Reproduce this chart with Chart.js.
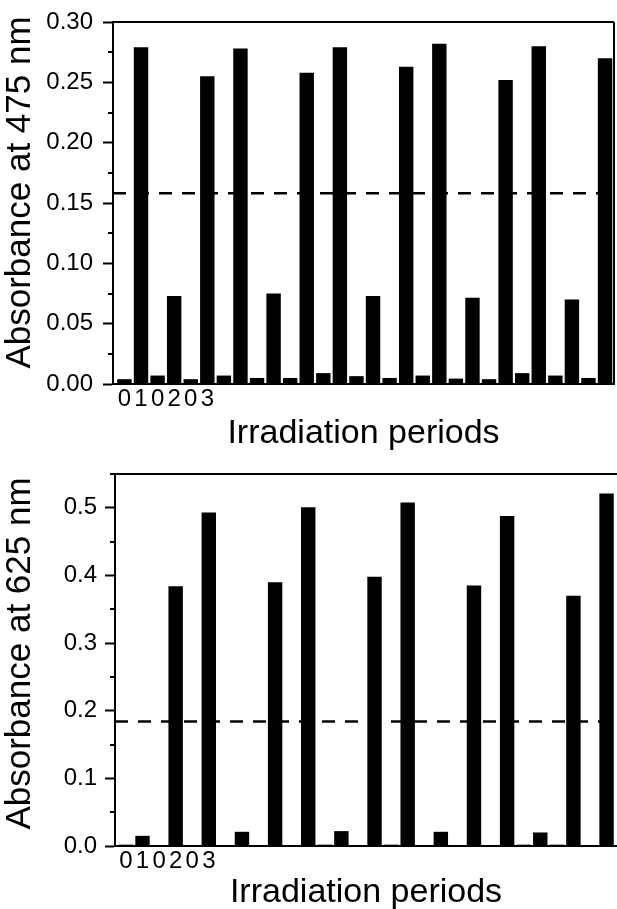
<!DOCTYPE html>
<html>
<head>
<meta charset="utf-8">
<script src="https://cdn.jsdelivr.net/npm/chart.js@4.4.0/dist/chart.umd.min.js"></script>
<style>
  html, body { margin: 0; padding: 0; background: #fff; }
  #wrap { position: relative; width: 617px; height: 909px; }
  canvas { position: absolute; left: 0; }
  #top { top: 0; }
  #bottom { top: 454px; }
</style>
</head>
<body>
<div id="wrap">
  <canvas id="top" width="617" height="454"></canvas>
  <canvas id="bottom" width="617" height="455"></canvas>
</div>
<script>
// Data
const periods = [0, 1, 2, 3, 4, 5, 6, 7, 8, 9, 10, 11, 12, 13, 14, 15, 16, 17, 18, 19, 20, 21, 22, 23, 24, 25, 26, 27, 28, 29];
const xTickLabels = ['0', '1', '0', '2', '0', '3'];
const abs475 = [0.004, 0.279, 0.007, 0.073, 0.004, 0.255, 0.007, 0.278, 0.005, 0.075,
                0.005, 0.258, 0.009, 0.279, 0.0065, 0.073, 0.005, 0.263, 0.007, 0.282,
                0.0045, 0.0715, 0.004, 0.252, 0.009, 0.280, 0.007, 0.070, 0.005, 0.270];
const abs625 = [0.002, 0.015, 0, 0.384, 0, 0.493, 0.001, 0.021, 0, 0.390,
                0.001, 0.501, 0.002, 0.022, 0, 0.398, 0.002, 0.508, 0, 0.021,
                0, 0.385, 0, 0.488, 0.002, 0.020, 0.002, 0.370, 0, 0.521];
const ref475 = 0.158;
const ref625 = 0.184;

const FONT = "'Liberation Sans', Arial, sans-serif";
Chart.defaults.font.family = FONT;
Chart.defaults.color = '#000';

// dashed reference line, minor ticks, frame and y title
const extras = {
    id: 'extras',
    beforeDatasetsDraw(chart, args, opts) {
        const {ctx, chartArea: a, scales: {y}} = chart;
        const yp = y.getPixelForValue(opts.refValue);
        ctx.save();
        ctx.strokeStyle = '#000';
        ctx.lineWidth = 2.5;
        ctx.setLineDash([13, 10]);
        ctx.beginPath();
        ctx.moveTo(a.left, yp);
        ctx.lineTo(a.right, yp);
        ctx.stroke();
        ctx.restore();
    },
    afterDraw(chart, args, opts) {
        const {ctx, chartArea: a, scales: {y}} = chart;
        const vals = y.ticks.map(t => t.value);
        const step = vals[1] - vals[0];
        ctx.save();
        ctx.strokeStyle = '#000';
        ctx.lineWidth = 2;
        ctx.beginPath();
        for (let v = vals[0] + step / 2; v <= y.max + 1e-9; v += step) {
            const yp = Math.round(y.getPixelForValue(v));
            ctx.moveTo(a.left - 5, yp);
            ctx.lineTo(a.left, yp);
        }
        ctx.moveTo(a.left - 1, a.top);
        ctx.lineTo(a.right, a.top);
        if (opts.rightBorder) {
            ctx.moveTo(a.right, a.top);
            ctx.lineTo(a.right, a.bottom);
        }
        ctx.stroke();

        // y axis title, a little above the axis centre as in the figure
        ctx.translate(20, (a.top + a.bottom) / 2 + opts.titleShift);
        ctx.rotate(-Math.PI / 2);
        ctx.font = '35px ' + FONT;
        ctx.fillStyle = '#000';
        ctx.textAlign = 'center';
        ctx.textBaseline = 'middle';
        ctx.fillText(opts.yTitle, 0, 0);
        ctx.restore();
    }
};

function makeChart(id, values, cfg) {
    return new Chart(document.getElementById(id), {
        type: 'bar',
        data: {
            datasets: [{
                data: periods.map((p, i) => ({x: p, y: values[i]})),
                backgroundColor: '#000',
                borderWidth: 0,
                barPercentage: 0.87,
                categoryPercentage: 1
            }]
        },
        options: {
            responsive: false,
            animation: false,
            layout: { padding: { top: cfg.padTop, right: cfg.padRight, left: 0, bottom: 0 } },
            plugins: {
                legend: { display: false },
                tooltip: { enabled: false },
                extras: { refValue: cfg.ref, rightBorder: cfg.rightBorder, yTitle: cfg.yTitle, titleShift: cfg.titleShift }
            },
            scales: {
                x: {
                    type: 'linear',
                    min: cfg.xMin,
                    max: cfg.xMax,
                    offset: false,
                    grid: { display: false, drawTicks: false },
                    border: { display: true, color: '#000', width: 2 },
                    ticks: {
                        stepSize: 1, autoSkip: false, maxRotation: 0, includeBounds: false,
                        padding: 3, color: '#000', font: { size: 24, lineHeight: 1 },
                        callback: v => xTickLabels[v] ?? ''
                    },
                    title: {
                        display: true, text: 'Irradiation periods', color: '#000',
                        font: { size: 34, lineHeight: 1 },
                        padding: { top: 0, bottom: cfg.xTitlePad }
                    },
                    afterFit: s => { s.height = cfg.xAxisHeight; }
                },
                y: {
                    min: 0,
                    max: cfg.yMax,
                    grid: { display: true, drawOnChartArea: false, drawTicks: true, tickLength: 10, tickWidth: 2, tickColor: '#000' },
                    border: { display: true, color: '#000', width: 2 },
                    ticks: {
                        stepSize: cfg.yStep, includeBounds: false, padding: cfg.yTickPad,
                        color: '#000', font: { size: 24, lineHeight: 1 },
                        callback: v => v.toFixed(cfg.decimals)
                    },
                    title: { display: false },
                    afterFit: s => { s.width = cfg.yAxisWidth; }
                }
            }
        },
        plugins: [extras]
    });
}

makeChart('top', abs475, {
    padTop: 12, padRight: 3, xMin: -0.69, xMax: 29.54,
    xAxisHeight: 70, xTitlePad: 3, yAxisWidth: 113,
    yMax: 0.30, yStep: 0.05, decimals: 2, yTickPad: 10,
    yTitle: 'Absorbance at 475 nm', titleShift: -10.5, ref: ref475, rightBorder: true
});

makeChart('bottom', abs625, {
    padTop: 20, padRight: 0, xMin: -0.66, xMax: 29.63,
    xAxisHeight: 63, xTitlePad: -1, yAxisWidth: 115,
    yMax: 0.55, yStep: 0.1, decimals: 1, yTickPad: 8,
    yTitle: 'Absorbance at 625 nm', titleShift: -6.5, ref: ref625, rightBorder: false
});
</script>
</body>
</html>
